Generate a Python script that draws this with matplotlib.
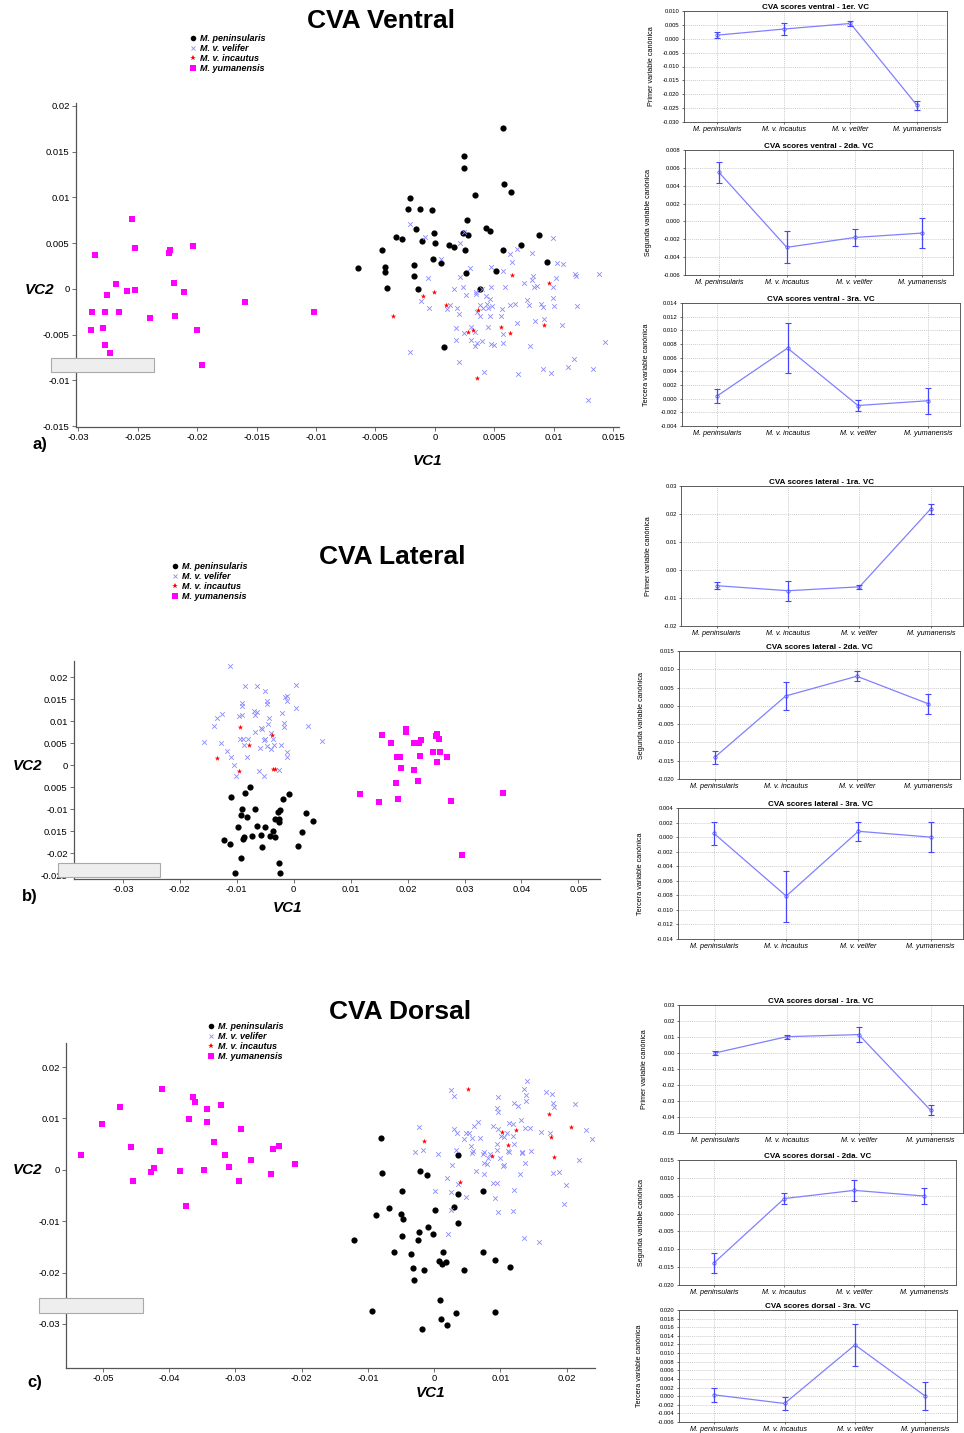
import numpy as np
import matplotlib
matplotlib.use("Agg")
import matplotlib.pyplot as plt
from matplotlib.lines import Line2D
from matplotlib.patches import Rectangle

plt.rcParams["font.family"] = ["Liberation Sans", "DejaVu Sans"]

W, H = 964, 1433

species = ["M. peninsularis", "M. v. velifer", "M. v. incautus", "M. yumanensis"]
categories = ["M. peninsularis", "M. v. incautus", "M. v. velifer", "M. yumanensis"]

# ---- CVA ventral scores (VC1, VC2) ----
ventral_pen = [
    (0.00577, 0.01757), (0.00245, 0.01449), (0.00245, 0.01322), (0.00584, 0.01147),
    (0.00639, 0.0106), (0.00342, 0.01028), (-0.00207, 0.00995), (-0.00225, 0.00875),
    (-0.00121, 0.00868), (-0.00021, 0.00861), (0.0027, 0.00755), (-0.00159, 0.00657),
    (0.00428, 0.00668), (0.00466, 0.00632), (-0.0001, 0.0061), (0.00238, 0.0061),
    (0.0028, 0.00588), (-0.00328, 0.00566), (-0.0028, 0.00548), (-0.00111, 0.00526),
    (0.0, 0.00497), (0.00117, 0.00479), (0.00162, 0.00461), (0.00878, 0.00585),
    (0.00722, 0.00483), (-0.00446, 0.00428), (0.00252, 0.00428), (0.00577, 0.00428),
    (-0.00643, 0.00229), (-0.00422, 0.00243), (-0.00014, 0.00327), (0.00055, 0.00283),
    (-0.00176, 0.00258), (0.00947, 0.0029), (-0.00418, 0.00182), (-0.00176, 0.00142),
    (0.00266, 0.00178), (0.00515, 0.00192), (-0.00401, 0.0001), (-0.00142, 0.0),
    (0.00384, 0.0), (0.00073, -0.00632),
]
ventral_vel = [
    (-0.00211, 0.00708), (-0.00083, 0.00563), (0.00245, 0.00617), (0.00211, 0.00497),
    (0.00052, 0.00323), (0.00297, 0.00229), (-0.00055, 0.00123), (0.00214, 0.00127),
    (0.0047, 0.00243), (0.00577, 0.00189), (0.00629, 0.00381), (0.00653, 0.00298),
    (0.00688, 0.00432), (0.00819, 0.00396), (0.00992, 0.00559), (0.01026, 0.0028),
    (0.01081, 0.00272), (0.00822, 0.00142), (0.00819, 0.00094), (0.01023, 0.0012),
    (0.01185, 0.00145), (0.01178, 0.00163), (0.01382, 0.00163), (0.00753, 0.00065),
    (0.00864, 0.00033), (0.00833, 0.00022), (0.00591, 0.00018), (0.00473, 0.00025),
    (0.00401, 0.0), (0.00349, -0.00033), (0.00238, 0.00025), (0.00162, -0.00007),
    (0.00263, -0.00073), (0.00349, -0.00054), (0.00432, -0.00076), (0.00463, -0.00113),
    (-0.00117, -0.00131), (-0.00048, -0.00207), (0.00124, -0.00182), (0.001, -0.00225),
    (0.00187, -0.00211), (0.00204, -0.00272), (0.00384, -0.00174), (0.00435, -0.00171),
    (0.00404, -0.00207), (0.00446, -0.00207), (0.0048, -0.00185), (0.00352, -0.00251),
    (0.00463, -0.00301), (0.00567, -0.00218), (0.00632, -0.00182), (0.00674, -0.00163),
    (0.00777, -0.00123), (0.00795, -0.00182), (0.00891, -0.00167), (0.00912, -0.00203),
    (0.00995, -0.00102), (0.01199, -0.00189), (0.0038, -0.00301), (0.0056, -0.00301),
    (0.00688, -0.00374), (0.00843, -0.00349), (0.00916, -0.00327), (0.01068, -0.00399),
    (0.00176, -0.00425), (0.00301, -0.00418), (0.00342, -0.00468), (0.00249, -0.00483),
    (0.00446, -0.00418), (0.00574, -0.00497), (0.00176, -0.00559), (0.00301, -0.00559),
    (0.00359, -0.00592), (0.00394, -0.0057), (0.00473, -0.00606), (0.00494, -0.00614),
    (0.00342, -0.00621), (0.00577, -0.00588), (0.00802, -0.00625), (0.00978, -0.00919),
    (0.00912, -0.00875), (0.01123, -0.00853), (0.01171, -0.00766), (0.01334, -0.00871),
    (0.0143, -0.00577), (0.00698, -0.00933), (0.00418, -0.00908), (0.00204, -0.00802),
    (-0.00211, -0.00686), (0.01285, -0.0122), (0.01005, -0.00185), (0.00992, 0.00018),
]
ventral_inc = [
    (-0.00349, -0.00294), (-0.001, -0.00084), (-0.00003, -0.0004), (0.0009, -0.00174),
    (0.00363, -0.00236), (0.00276, -0.00476), (0.00318, -0.00447), (0.00556, -0.00418),
    (0.00636, -0.00479), (0.00653, 0.00156), (0.00964, 0.00065), (0.00916, -0.004),
    (0.00352, -0.00977),
]
ventral_yum = [
    (-0.02547, 0.00763), (-0.02864, 0.00374), (-0.02522, 0.00443), (-0.02225, 0.00425),
    (-0.02239, 0.00396), (-0.02032, 0.00465), (-0.02685, 0.00051), (-0.02198, 0.00058),
    (-0.02757, -0.00069), (-0.02588, -0.00022), (-0.02526, -0.00018), (-0.02108, -0.00036),
    (-0.02885, -0.00254), (-0.02778, -0.00258), (-0.0266, -0.00251), (-0.02398, -0.0032),
    (-0.02191, -0.00294), (-0.02892, -0.00454), (-0.02792, -0.00425), (-0.02004, -0.00447),
    (-0.02775, -0.00617), (-0.02733, -0.00704), (-0.01963, -0.00832), (-0.01596, -0.00145),
    (-0.01019, -0.00254),
]

# ---- CVA lateral scores ----
lateral_pen = [
    (-0.00774, -0.00498), (-0.01098, -0.00718), (-0.00862, -0.00634), (-0.00081, -0.0065),
    (-0.00189, -0.0077), (-0.00902, -0.00982), (-0.0068, -0.00989), (-0.00236, -0.01005),
    (-0.00269, -0.0105), (-0.00929, -0.01118), (-0.00815, -0.01171), (0.00209, -0.01088),
    (-0.00323, -0.01224), (-0.00263, -0.01217), (-0.00263, -0.01277), (0.0033, -0.01261),
    (-0.00983, -0.0139), (-0.00646, -0.01375), (-0.00498, -0.01405), (-0.0037, -0.01488),
    (0.00148, -0.01511), (-0.01219, -0.01692), (-0.00889, -0.01662), (-0.00875, -0.01632),
    (-0.00741, -0.01609), (-0.00572, -0.01571), (-0.00424, -0.01594), (-0.00323, -0.01624),
    (-0.01111, -0.0179), (-0.00566, -0.0185), (0.00081, -0.0182), (-0.00929, -0.021),
    (-0.00256, -0.02228), (-0.01037, -0.02455), (-0.00249, -0.02455),
]
lateral_vel = [
    (-0.01118, 0.02251), (-0.00848, 0.01813), (-0.00653, 0.01798), (0.00034, 0.01828),
    (-0.00498, 0.01684), (-0.00121, 0.01586), (-0.00148, 0.01556), (-0.00114, 0.01465),
    (-0.00465, 0.01465), (-0.00471, 0.01397), (-0.00909, 0.01412), (-0.00916, 0.01337),
    (0.0004, 0.01307), (-0.01259, 0.01171), (-0.0134, 0.0108), (-0.00694, 0.01231),
    (-0.00653, 0.01208), (-0.00687, 0.01133), (-0.00909, 0.01148), (-0.00963, 0.01118),
    (-0.00209, 0.01193), (-0.00438, 0.01073), (-0.00168, 0.00967), (-0.00168, 0.00869),
    (-0.00458, 0.00929), (-0.01401, 0.00899), (0.00249, 0.00899), (-0.00559, 0.00816),
    (-0.0068, 0.00748), (-0.00404, 0.00725), (-0.00936, 0.00597), (-0.00889, 0.00604),
    (-0.00795, 0.00597), (-0.00512, 0.00604), (-0.00525, 0.00574), (-0.00364, 0.00589),
    (-0.01576, 0.00529), (-0.01286, 0.00498), (-0.00869, 0.00453), (-0.00343, 0.00468),
    (-0.00215, 0.00461), (-0.00586, 0.00393), (-0.00478, 0.00438), (-0.00397, 0.0037),
    (-0.01178, 0.00325), (-0.00121, 0.00302), (-0.01098, 0.00189), (-0.00828, 0.00196),
    (-0.00121, 0.00181), (-0.01051, 0.00015), (-0.00606, -0.00136), (-0.00263, -0.00098),
    (-0.0101, -0.00242), (-0.00519, -0.00234), (0.00492, 0.00551), (-0.00579, 0.00838),
]
lateral_inc = [
    (-0.00943, 0.00869), (-0.00384, 0.0068), (-0.00781, 0.00453), (-0.01354, 0.00174),
    (-0.00956, -0.00136), (-0.00323, -0.00076), (-0.00357, -0.00091),
]
lateral_yum = [
    (0.01542, 0.00687), (0.0198, 0.00823), (0.01973, 0.00763), (0.01717, 0.00498),
    (0.02108, 0.00506), (0.02202, 0.00498), (0.02229, 0.00574), (0.02512, 0.0071),
    (0.02492, 0.00657), (0.02559, 0.00589), (0.02438, 0.0031), (0.02566, 0.0031),
    (0.02215, 0.00211), (0.01818, 0.00181), (0.01865, 0.00196), (0.02687, 0.00181),
    (0.02519, 0.00083), (0.01892, -0.00053), (0.02108, -0.00098), (0.02175, -0.00347),
    (0.01791, -0.00408), (0.01158, -0.0065), (0.01825, -0.00755), (0.01495, -0.00831),
    (0.02754, -0.00801), (0.03683, -0.00634), (0.02956, -0.02039),
]

# ---- CVA dorsal scores ----
dorsal_pen = [
    (-0.00801, 0.0061), (0.00354, 0.00292), (-0.00784, -0.00058), (-0.00218, -0.00032),
    (-0.001, -0.00104), (-0.00483, -0.00416), (0.00731, -0.00409), (0.00365, -0.00468),
    (0.00018, -0.00792), (0.00306, -0.00727), (-0.00678, -0.0074), (-0.00872, -0.00877),
    (-0.00507, -0.00851), (-0.00477, -0.00961), (0.00359, -0.01033), (-0.00094, -0.0111),
    (-0.00224, -0.01214), (-0.00018, -0.01247), (-0.00483, -0.01292), (-0.00242, -0.01364),
    (-0.01214, -0.0137), (-0.00613, -0.01604), (0.0013, -0.01604), (0.00731, -0.01591),
    (-0.00342, -0.0163), (0.00919, -0.01753), (0.00071, -0.01779), (0.00183, -0.01805),
    (0.00112, -0.01825), (0.01149, -0.01896), (-0.00324, -0.01922), (-0.00153, -0.01942),
    (0.00448, -0.01955), (-0.00301, -0.0215), (0.00094, -0.02533), (-0.00937, -0.02747),
    (0.001, -0.02909), (0.00324, -0.02786), (0.00919, -0.02773), (0.002, -0.03026),
    (-0.00183, -0.03104),
]
dorsal_vel = [
    (0.00248, 0.01552), (0.00301, 0.01442), (0.01397, 0.01727), (0.01361, 0.01565),
    (0.01391, 0.01448), (0.01385, 0.01331), (0.01685, 0.01507), (0.0178, 0.01481),
    (0.01791, 0.01292), (0.01809, 0.01214), (0.00961, 0.01422), (0.00955, 0.01208),
    (0.00961, 0.0113), (0.01208, 0.01305), (0.01261, 0.01247), (0.01137, 0.00909),
    (0.0119, 0.0089), (0.01308, 0.00974), (0.01379, 0.00805), (0.0145, 0.00805),
    (0.01756, 0.00708), (0.01609, 0.0074), (0.02121, 0.01273), (0.02292, 0.00773),
    (0.02381, 0.00597), (0.02192, 0.00195), (-0.0023, 0.00838), (0.00301, 0.00786),
    (0.00342, 0.00708), (0.00666, 0.00922), (0.00601, 0.00844), (0.00524, 0.00721),
    (0.00489, 0.00721), (0.00454, 0.00591), (0.00578, 0.00617), (0.00689, 0.0061),
    (0.0089, 0.00851), (0.00961, 0.00786), (0.0119, 0.00662), (0.01214, 0.005),
    (-0.00295, 0.00351), (-0.00165, 0.00383), (0.00053, 0.00305), (0.0033, 0.00377),
    (0.00554, 0.00468), (0.00589, 0.0037), (0.00578, 0.00318), (0.0076, 0.00338),
    (0.00849, 0.00312), (0.00807, 0.00221), (0.00943, 0.00507), (0.00955, 0.00383),
    (0.01002, 0.00221), (0.01061, 0.00091), (0.01037, 0.00078), (0.01114, 0.00357),
    (0.01326, 0.00344), (0.0132, 0.00331), (0.01467, 0.00364), (0.01379, 0.00136),
    (0.01108, 0.00708), (0.01049, 0.00643), (0.00631, -0.00032), (0.0076, -0.00078),
    (0.00801, 0.0011), (0.01296, -0.00078), (0.01797, -0.00065), (0.0188, -0.00045),
    (0.002, -0.00156), (0.00354, -0.0028), (0.00248, -0.00435), (0.00489, -0.00526),
    (0.00896, -0.00266), (0.00943, -0.00253), (0.00925, -0.00558), (0.00966, -0.00831),
    (0.01208, -0.00396), (0.0119, -0.00799), (0.00018, -0.00416), (0.00248, -0.00786),
    (0.00212, -0.01247), (0.01355, -0.01331), (0.01579, -0.01403), (0.01962, -0.00675),
    (0.01998, -0.00299), (0.00271, 0.00091), (0.00754, 0.00136), (0.01008, 0.00662),
    (0.01126, 0.00351), (0.00743, 0.00312),
]
dorsal_inc = [
    (0.00513, 0.01565), (-0.00159, 0.00558), (0.01738, 0.01091), (0.02063, 0.00825),
    (0.01768, 0.00643), (0.01025, 0.00727), (0.01238, 0.00773), (0.01114, 0.00481),
    (0.00878, 0.00266), (0.01809, 0.00247), (0.00395, -0.00234),
]
dorsal_yum = [
    (-0.05333, 0.00286), (-0.05009, 0.00883), (-0.04738, 0.01214), (-0.04579, 0.00435),
    (-0.04544, -0.00214), (-0.04272, -0.00045), (-0.04231, 0.00039), (-0.04143, 0.00357),
    (-0.04107, 0.01578), (-0.03842, -0.00032), (-0.03742, -0.00714), (-0.03701, 0.00994),
    (-0.03636, 0.01416), (-0.03612, 0.01318), (-0.03477, -0.00006), (-0.0343, 0.01182),
    (-0.03424, 0.00929), (-0.03318, 0.00545), (-0.03218, 0.0126), (-0.03165, 0.00286),
    (-0.03094, 0.00052), (-0.02947, -0.00227), (-0.02911, 0.00786), (-0.0277, 0.00188),
    (-0.02457, -0.00084), (-0.0244, 0.00403), (-0.0234, 0.00468), (-0.02098, 0.0011),
]

# ---- mean canonical scores per group with error bars ----
ventral_vc1_mean = [0.0013, 0.0035, 0.0055, -0.0240]
ventral_vc1_err = [0.0010, 0.0023, 0.0008, 0.0017]
ventral_vc2_mean = [0.0055, -0.0029, -0.0018, -0.0013]
ventral_vc2_err = [0.0012, 0.0018, 0.0009, 0.0017]
ventral_vc3_mean = [0.0004, 0.0074, -0.0010, -0.0003]
ventral_vc3_err = [0.0010, 0.0037, 0.0008, 0.0019]
lateral_vc1_mean = [-0.0056, -0.0074, -0.0060, 0.0219]
lateral_vc1_err = [0.0013, 0.0036, 0.0008, 0.0018]
lateral_vc2_mean = [-0.0141, 0.0027, 0.0081, 0.0006]
lateral_vc2_err = [0.0017, 0.0038, 0.0014, 0.0027]
lateral_vc3_mean = [0.0005, -0.0081, 0.0008, 0.0000]
lateral_vc3_err = [0.0016, 0.0035, 0.0013, 0.0021]
dorsal_vc1_mean = [0.0000, 0.0102, 0.0115, -0.0358]
dorsal_vc1_err = [0.0015, 0.0013, 0.0045, 0.0032]
dorsal_vc2_mean = [-0.0138, 0.0042, 0.0065, 0.0049]
dorsal_vc2_err = [0.0029, 0.0015, 0.0030, 0.0023]
dorsal_vc3_mean = [0.0003, -0.0017, 0.0119, 0.0000]
dorsal_vc3_err = [0.0017, 0.0015, 0.0049, 0.0033]

fig = plt.figure(figsize=(W / 100, H / 100), dpi=100)
fig.patch.set_facecolor("white")


def px_axes(left, top, right, bottom):
    return fig.add_axes([left / W, 1 - bottom / H, (right - left) / W, (bottom - top) / H])


def fig_text(x, y, s, **kw):
    fig.text(x / W, 1 - y / H, s, **kw)


STYLES = [
    dict(marker="o", c="black", s=20, linewidths=0),
    dict(marker="x", c="#8a8aff", s=11, linewidths=0.6),
    dict(marker="*", c="#ff0000", s=16, linewidths=0),
    dict(marker="s", c="#ff00ff", s=13, linewidths=0),
]


def scatter_panel(box, groups, xlim, ylim, xticks, xlabels, yticks, ylabels,
                  title, title_xy, legend_xy, letter, letter_xy, vc1_xy, vc2_xy, cover):
    ax = px_axes(*box)
    for pts, st in zip(groups, STYLES):
        arr = np.array(pts)
        ax.scatter(arr[:, 0], arr[:, 1], zorder=3, **st)
    ax.set_xlim(*xlim)
    ax.set_ylim(*ylim)
    ax.set_xticks(xticks)
    ax.set_xticklabels(xlabels)
    ax.set_yticks(yticks)
    ax.set_yticklabels(ylabels)
    for side in ["top", "right"]:
        ax.spines[side].set_visible(False)
    for side in ["left", "bottom"]:
        ax.spines[side].set_color("#555555")
        ax.spines[side].set_linewidth(0.9)
    ax.tick_params(labelsize=6.8, length=3, width=0.6, color="#555555", pad=1.5)

    fig_text(*title_xy, title, fontsize=19, fontweight="bold", ha="center", va="center")
    fig_text(*letter_xy, letter, fontsize=12, fontweight="bold", ha="center", va="center")
    fig_text(*vc1_xy, "VC1", fontsize=11, fontweight="bold", style="italic", ha="center", va="center")
    fig_text(*vc2_xy, "VC2", fontsize=11, fontweight="bold", style="italic", ha="center", va="center")

    handles = [Line2D([], [], linestyle="", marker=st["marker"], color=st["c"],
                      markersize=4 if st["marker"] != "x" else 3.5,
                      markeredgewidth=0.6 if st["marker"] == "x" else 0)
               for st in STYLES]
    fig.legend(handles, species, loc="upper left",
               bbox_to_anchor=(legend_xy[0] / W, 1 - legend_xy[1] / H),
               frameon=False, handlelength=0.6, handletextpad=0.5,
               labelspacing=0.12, borderpad=0, borderaxespad=0,
               prop=dict(size=6.5, weight="bold", style="italic"))

    x0, y0, x1, y1 = cover
    fig.add_artist(Rectangle((x0 / W, 1 - y1 / H), (x1 - x0) / W, (y1 - y0) / H,
                             transform=fig.transFigure, facecolor="#eeeeee",
                             edgecolor="#aaaaaa", linewidth=0.8, zorder=10))
    return ax


def score_panel(box, ylabel_x, mean, err, ylo, yhi, ystep, decimals, title, ylabel):
    left, top, right, bottom = box
    ax = px_axes(left, top, right, bottom)
    x = np.arange(len(categories))
    ax.plot(x, mean, color="#8080ff", linewidth=0.9, marker="o", markersize=2.4,
            markerfacecolor="white", markeredgecolor="#5a5aff", markeredgewidth=0.6, zorder=3)
    ax.errorbar(x, mean, yerr=err, fmt="none", ecolor="#4646ff", elinewidth=0.9,
                capsize=2.2, capthick=0.8, zorder=4)
    ax.set_xlim(-0.5, 3.45)
    ax.set_ylim(ylo, yhi)
    ticks = np.linspace(ylo, yhi, int(round((yhi - ylo) / ystep)) + 1)
    ax.set_yticks(ticks)
    ax.set_yticklabels([f"{t:.{decimals}f}".replace("-0.000", "0.000") for t in ticks])
    ax.set_xticks(x)
    ax.set_xticklabels(categories, style="italic", fontsize=5.2)
    ax.grid(True, linestyle=(0, (1.5, 1.5)), color="#bbbbbb", linewidth=0.5)
    ax.tick_params(axis="y", labelsize=4.2, length=1.5, width=0.4, pad=1.5)
    ax.tick_params(axis="x", length=1.5, width=0.4, pad=1.5)
    for sp in ax.spines.values():
        sp.set_color("#444444")
        sp.set_linewidth(0.6)
    ax.set_title(title, fontsize=5.8, fontweight="bold", pad=1.5)
    ax.set_ylabel(ylabel, fontsize=5.2)
    ax.yaxis.set_label_coords((ylabel_x - left) / (right - left), 0.5)
    return ax


# left column: scatter plots of the first two canonical variates
scatter_panel((76, 103, 619, 427), [ventral_pen, ventral_vel, ventral_inc, ventral_yum],
              (-0.0302, 0.0155), (-0.0151, 0.0203),
              np.arange(-0.03, 0.0151, 0.005),
              ["-0.03", "-0.025", "-0.02", "-0.015", "-0.01", "-0.005", "0", "0.005", "0.01", "0.015"],
              np.arange(-0.015, 0.0201, 0.005),
              ["-0.015", "-0.01", "-0.005", "0", "0.005", "0.01", "0.015", "0.02"],
              "CVA Ventral", (381, 21), (190, 34), "a)", (40, 445), (428, 461), (40, 290),
              (51, 358, 154, 372))

scatter_panel((74, 661, 600, 879), [lateral_pen, lateral_vel, lateral_inc, lateral_yum],
              (-0.0386, 0.0538), (-0.0258, 0.0237),
              np.arange(-0.03, 0.0501, 0.01),
              ["-0.03", "-0.02", "-0.01", "0", "0.01", "0.02", "0.03", "0.04", "0.05"],
              np.arange(-0.025, 0.0201, 0.005),
              ["-0.025", "-0.02", "0.015", "-0.01", "0.005", "0", "0.005", "0.01", "0.015", "0.02"],
              "CVA Lateral", (392, 557), (172, 562), "b)", (30, 897), (288, 908), (28, 766),
              (58, 863, 160, 877))

scatter_panel((66, 1043, 595, 1368), [dorsal_pen, dorsal_vel, dorsal_inc, dorsal_yum],
              (-0.0556, 0.0243), (-0.0386, 0.0247),
              np.arange(-0.05, 0.0201, 0.01),
              ["-0.05", "-0.04", "-0.03", "-0.02", "-0.01", "0", "0.01", "0.02"],
              np.arange(-0.03, 0.0201, 0.01),
              ["-0.03", "-0.02", "-0.01", "0", "0.01", "0.02"],
              "CVA Dorsal", (400, 1012), (208, 1022), "c)", (35, 1382), (431, 1393), (28, 1170),
              (39, 1298, 143, 1313))

# right column: group means of each canonical variate
score_panel((684, 11, 947, 122), 655, ventral_vc1_mean, ventral_vc1_err,
            -0.030, 0.010, 0.005, 3, "CVA scores ventral - 1er. VC", "Primer variable canónica")
score_panel((685, 150, 953, 275), 652, ventral_vc2_mean, ventral_vc2_err,
            -0.006, 0.008, 0.002, 3, "CVA scores ventral - 2da. VC", "Segunda variable canónica")
score_panel((682, 303, 960, 426), 650, ventral_vc3_mean, ventral_vc3_err,
            -0.004, 0.014, 0.002, 3, "CVA scores ventral - 3ra. VC", "Tercera variable canónica")
score_panel((681, 486, 963, 626), 652, lateral_vc1_mean, lateral_vc1_err,
            -0.02, 0.03, 0.01, 2, "CVA scores lateral - 1ra. VC", "Primer variable canónica")
score_panel((679, 651, 960, 779), 645, lateral_vc2_mean, lateral_vc2_err,
            -0.020, 0.015, 0.005, 3, "CVA scores lateral - 2da. VC", "Segunda variable canónica")
score_panel((678, 808, 963, 939), 644, lateral_vc3_mean, lateral_vc3_err,
            -0.014, 0.004, 0.002, 3, "CVA scores lateral - 3ra. VC", "Tercera variable canónica")
score_panel((679, 1005, 963, 1133), 648, dorsal_vc1_mean, dorsal_vc1_err,
            -0.05, 0.03, 0.01, 2, "CVA scores dorsal - 1ra. VC", "Primer variable canónica")
score_panel((679, 1160, 956, 1285), 645, dorsal_vc2_mean, dorsal_vc2_err,
            -0.020, 0.015, 0.005, 3, "CVA scores dorsal - 2da. VC", "Segunda variable canónica")
score_panel((679, 1310, 957, 1422), 643, dorsal_vc3_mean, dorsal_vc3_err,
            -0.006, 0.020, 0.002, 3, "CVA scores dorsal - 3ra. VC", "Tercera variable canónica")

fig.savefig("out.png", dpi=100)
